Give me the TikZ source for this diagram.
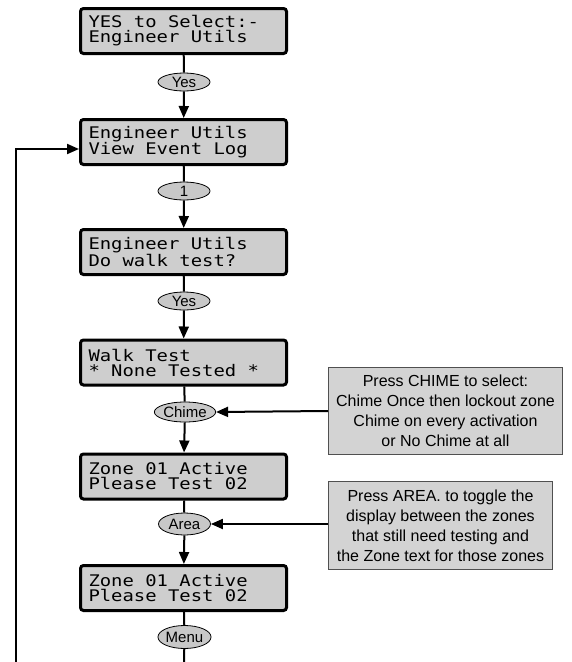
\documentclass[tikz,border=0pt]{standalone}
\usepackage{fontspec}
\setmainfont{Liberation Sans}
\newfontfamily\lcd[FakeStretch=1.18]{DejaVu Sans Mono}
\usetikzlibrary{arrows.meta,shapes.geometric}
\definecolor{lcdgray}{RGB}{206,206,206}
\definecolor{keygray}{RGB}{200,200,200}
\definecolor{notefill}{RGB}{211,211,211}
\definecolor{noteline}{RGB}{80,80,80}
\newcommand\lcdfont{\lcd\fontsize{16}{15}\selectfont}
\newcommand\lcdspace{\setbox0\hbox{a}\spaceskip=\wd0\relax\xspaceskip=\wd0\relax}
\tikzset{
  lcdbox/.style={draw, line width=3pt, rounded corners=3pt, fill=lcdgray,
    minimum width=206pt, minimum height=45pt, text width=190pt, inner xsep=8pt,
    align=left, font=\lcdfont},
  key/.style={ellipse, draw, line width=0.8pt, fill=keygray, minimum width=52pt,
    minimum height=18pt, inner sep=0pt, font=\fontsize{15}{15}\selectfont},
  note/.style={draw=noteline, line width=1pt, fill=notefill, align=center,
    inner sep=0pt, font=\fontsize{16}{20}\selectfont},
  link/.style={line width=2pt},
  arr/.style={line width=2pt, -{Triangle[width=10pt,length=12pt]}},
}
\begin{document}
\begin{tikzpicture}[x=1pt,y=-1pt]
\useasboundingbox (0,0) rectangle (571,662);
\node[lcdbox] (b1) at (183.5,31) {\lcdspace YES to Select:-\\Engineer Utils};
\node[key] (k1) at (184,82) {Yes};
\node[lcdbox] (b2) at (183.5,142) {\lcdspace Engineer Utils\\View Event Log};
\node[key] (k2) at (184,191) {1};
\node[lcdbox] (b3) at (183.5,252) {\lcdspace Engineer Utils\\Do walk test?};
\node[key] (k3) at (184,301) {Yes};
\node[lcdbox] (b4) at (183.5,362.5) {\lcdspace Walk Test\\{}* None Tested *};
\node[key, minimum height=20pt, minimum width=54pt] (k4) at (185,412) {Chime};
\node[lcdbox] (b5) at (183.5,476.5) {\lcdspace Zone 01 Active\\Please Test 02};
\node[key, minimum height=22pt] (k5) at (184.5,524) {Area};
\node[lcdbox] (b6) at (183.5,588) {\lcdspace Zone 01 Active\\Please Test 02};
\node[key, minimum height=23pt] (k6) at (184.5,637) {Menu};
\coordinate (bend) at (184,662);
\coordinate (loopstart) at (16,662);

\node[note, minimum width=234pt, minimum height=87pt] (n1) at (445.5,411)
  {Press CHIME to select:\\Chime Once then lockout zone\\Chime on every activation\\or No Chime at all};
\node[note, minimum width=224pt, minimum height=88pt] (n2) at (440.5,525.5)
  {Press AREA. to toggle the\\display between the zones\\that still need testing and\\the Zone text for those zones};

\draw[link] (b1) -- (k1);
\draw[arr] (k1) -- (b2);
\draw[link] (b2) -- (k2);
\draw[arr] (k2) -- (b3);
\draw[link] (b3) -- (k3);
\draw[arr] (k3) -- (b4);
\draw[link] (b4) -- (k4);
\draw[arr] (k4) -- (b5);
\draw[link] (b5) -- (k5);
\draw[arr] (k5) -- (b6);
\draw[link] (b6) -- (k6);
\draw[link] (k6) -- (bend);
\draw[arr] (loopstart) |- ([yshift=-7pt]b2.west);
\draw[arr] (n1.west) -- (k4.east);
\draw[arr] (n2.west |- k5.east) -- (k5.east);
\end{tikzpicture}
\end{document}
